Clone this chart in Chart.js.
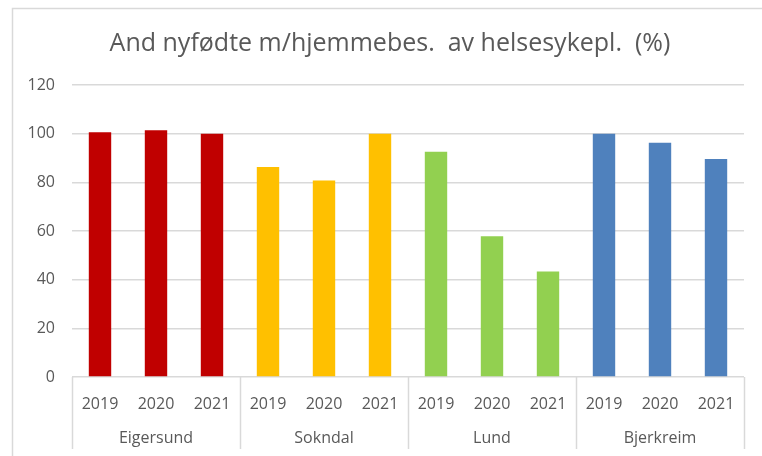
<!DOCTYPE html>
<html>
<head>
<meta charset="utf-8">
<script src="https://cdn.jsdelivr.net/npm/chart.js@4"></script>
<style>
  body { margin: 0; background: #fff; }
  #wrap { width: 762px; height: 456px; }
</style>
</head>
<body>
<div id="wrap"><canvas id="chart-1" width="762" height="456"></canvas></div>
<script>
// Municipalities and years on the two-level category axis
const groups = ['Eigersund', 'Sokndal', 'Lund', 'Bjerkreim'];
const years = ['2019', '2020', '2021'];

// Share of newborns with home visit by public health nurse (%)
const eigersund = [100.6, 101.4, 100];
const sokndal = [86.3, 80.8, 100];
const lund = [92.6, 57.8, 43.4];
const bjerkreim = [100, 96.3, 89.6];

const yTicks = { min: 0, max: 120, step: 20 };
const groupColors = ['#C00000', '#FFC000', '#92D050', '#4F81BD'];

const titleText = 'And nyfødte m/hjemmebes.  av helsesykepl.  (%)';
const textColor = '#595959';
const lineColor = '#d9d9d9';

const series = [eigersund, sokndal, lund, bjerkreim];
const labels = [];
const values = [];
const colors = [];
series.forEach((vals, g) => {
  vals.forEach((v, i) => {
    labels.push(years[i]);
    values.push(v);
    colors.push(groupColors[g]);
  });
});

Chart.defaults.font.family = "'Open Sans', sans-serif";
Chart.defaults.color = textColor;

// outer frame and title
const framePlugin = {
  id: 'frame',
  beforeDraw(chart) {
    const ctx = chart.ctx;
    ctx.save();
    ctx.fillStyle = '#fff';
    ctx.fillRect(0, 0, chart.width, chart.height);
    ctx.strokeStyle = lineColor;
    ctx.lineWidth = 1.5;
    ctx.strokeRect(12.5, 8.5, chart.width, chart.height);
    ctx.fillStyle = textColor;
    ctx.font = "25px 'Open Sans', sans-serif";
    ctx.textAlign = 'center';
    ctx.textBaseline = 'middle';
    ctx.fillText(titleText, 390, 44);
    ctx.restore();
  }
};

// vertical separators between the municipality groups
const groupLines = {
  id: 'groupLines',
  afterDraw(chart) {
    const x = chart.scales.x;
    const ctx = chart.ctx;
    const n = labels.length;
    ctx.save();
    ctx.strokeStyle = lineColor;
    ctx.lineWidth = 1.5;
    for (let g = 0; g <= groups.length; g++) {
      const px = Math.round(x.left + x.width * (g * years.length) / n) + 0.5;
      ctx.beginPath();
      ctx.moveTo(px, chart.chartArea.bottom);
      ctx.lineTo(px, 449);
      ctx.stroke();
    }
    ctx.restore();
  }
};

new Chart(document.getElementById('chart-1'), {
  type: 'bar',
  data: {
    labels: labels,
    datasets: [{
      data: values,
      backgroundColor: colors,
      barPercentage: 0.4,
      categoryPercentage: 1.0
    }]
  },
  options: {
    responsive: false,
    animation: false,
    layout: { padding: { top: 85, right: 18, bottom: 5, left: 0 } },
    plugins: {
      legend: { display: false },
      title: { display: false },
      tooltip: { enabled: false }
    },
    scales: {
      x: {
        type: 'category',
        offset: true,
        weight: 0,
        grid: { display: false, drawTicks: false },
        border: { display: false },
        ticks: { font: { size: 16 }, padding: 18, maxRotation: 0, autoSkip: false },
        afterFit(s) { s.height = 44; }
      },
      x2: {
        type: 'category',
        labels: groups,
        position: 'bottom',
        offset: true,
        weight: 1,
        grid: { display: false, drawTicks: false },
        border: { display: false },
        ticks: { font: { size: 16 }, padding: 8, maxRotation: 0, autoSkip: false },
        afterFit(s) { s.height = 30; }
      },
      y: {
        min: yTicks.min,
        max: yTicks.max,
        grid: { color: lineColor, lineWidth: 1.5, drawTicks: false },
        border: { display: false },
        ticks: { stepSize: yTicks.step, font: { size: 16 }, padding: 17 },
        afterFit(s) { s.width = 72; }
      }
    }
  },
  plugins: [framePlugin, groupLines]
});
</script>
</body>
</html>
